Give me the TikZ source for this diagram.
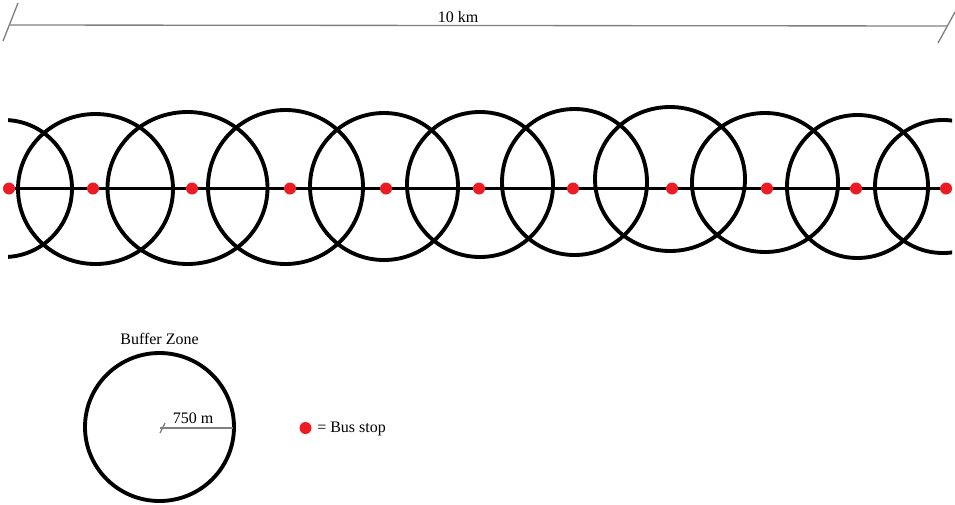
\documentclass[tikz,border=0pt]{standalone}
\usepackage{fontspec}
\setmainfont{Liberation Serif}
\definecolor{busred}{RGB}{237,28,36}
\definecolor{scalegray}{RGB}{128,128,128}
\begin{document}
\begin{tikzpicture}[x=0.75pt,y=-0.75pt,
  ring/.style={line width=2.9pt, black},
  route/.style={line width=2.4pt, black},
  stop/.style={circle, fill=busred, inner sep=0pt, minimum size=9pt},
  lbl/.style={font=\fontsize{12}{14}\selectfont, inner sep=0pt},
  scalebar/.style={draw=scalegray, line width=1pt}]
\useasboundingbox (0,0) rectangle (955,504);

% scale bar
\coordinate (L) at (10,25);
\coordinate (R) at (947,26);
\coordinate (Lt1) at (3,41);
\coordinate (Lt2) at (18,3);
\coordinate (Rt1) at (938,43);
\coordinate (Rt2) at (955,12);
\draw[scalebar] (L) -- (R);
\draw[scalebar] (Lt1) -- (Lt2);
\draw[scalebar] (Rt1) -- (Rt2);
\node[lbl] (dist) at (458,17) {10 km};

% buffer circles
\foreach \cx/\cy/\rx/\ry in {95.5/189/77.5/75, 187.5/188/80/76, 285.5/187/77.5/77,
  384/186.5/74/73.5, 480/184.5/73/72.5, 574.5/182/72.5/73,
  670/179/75/72, 765/182.5/73/69.5, 857.5/186.5/70.5/71.5}
  \draw[ring] (\cx,\cy) ellipse [x radius=\rx, y radius=\ry];
\begin{scope}
  \clip (8,0) rectangle (952,504);
  \draw[ring] (4,188.5) ellipse [x radius=68, y radius=68.5];
  \draw[ring] (943,186.5) ellipse [x radius=68, y radius=66.5];
\end{scope}

% bus stops
\foreach \n/\x in {0/9, 1/93, 2/192, 3/290, 4/386,
  5/479, 6/573, 7/672, 8/767, 9/856, 10/946}
  \node[stop] (s\n) at (\x,188.5) {};
\foreach \a/\b in {0/1,1/2,2/3,3/4,4/5,5/6,6/7,7/8,8/9,9/10}
  \draw[route] (s\a) -- (s\b);

% legend: buffer zone
\node[lbl] (bzt) at (159.5,339) {Buffer Zone};
\draw[ring] (159.5,427) ellipse [x radius=74.5, y radius=74];
\coordinate (bc) at (160,428);
\coordinate (be) at (233,428);
\coordinate (bt1) at (160,433);
\coordinate (bt2) at (165,423);
\draw[scalebar] (bc) -- (be);
\draw[scalebar] (bt1) -- (bt2);
\node[lbl] (rad) at (193,418) {750 m};

% legend: bus stop
\node[stop] (ls) at (305.5,428) {};
\node[lbl, anchor=west] (lst) at (317,428.5) {= Bus stop};
\end{tikzpicture}
\end{document}
